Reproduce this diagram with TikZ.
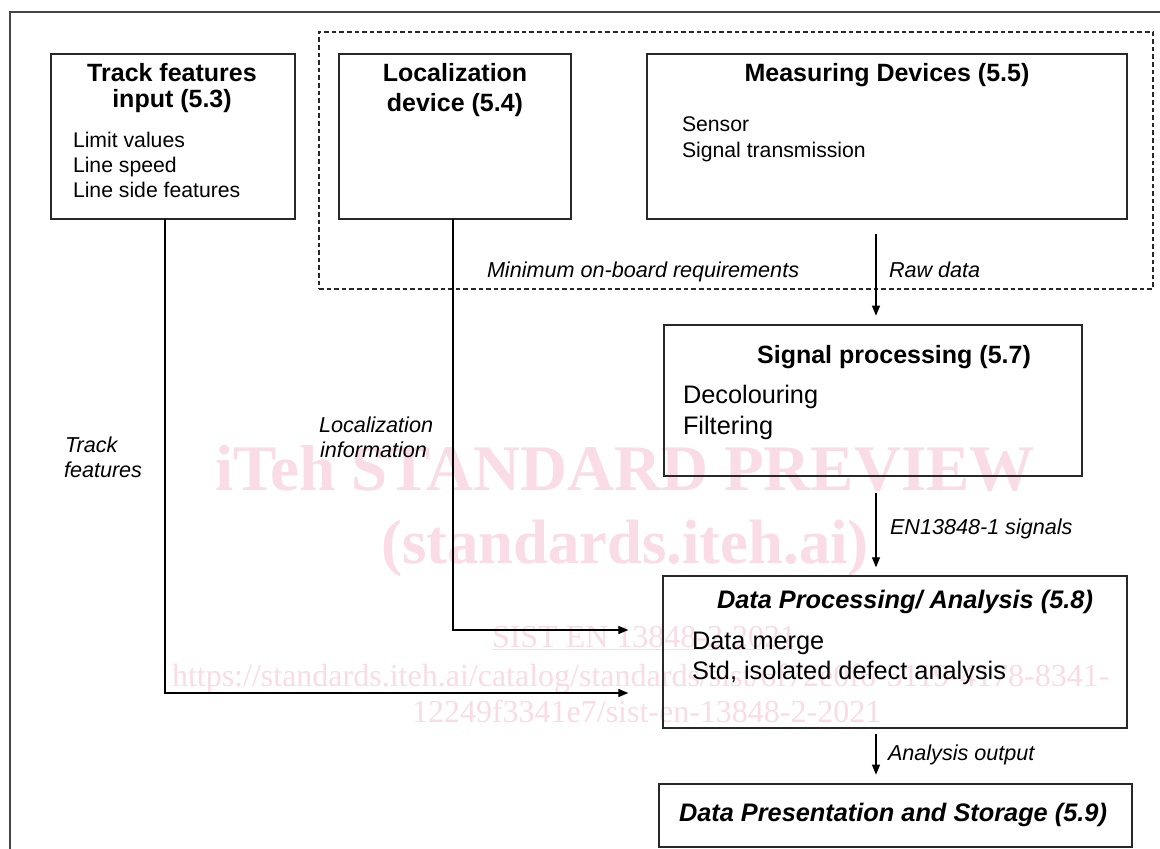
\documentclass[tikz,border=0pt]{standalone}
\usepackage{fontspec}
\setmainfont{Liberation Sans}
\newfontfamily\wmserif{Liberation Serif}
\usetikzlibrary{arrows.meta}

\definecolor{wmpink}{RGB}{249,220,229}
\definecolor{framec}{RGB}{70,70,70}
\definecolor{boxc}{RGB}{40,40,40}

\newcommand\setsz[1]{\fontsize{#1}{#1}\selectfont}

\tikzset{
  box/.style={draw=boxc, line width=1.1pt, inner sep=0pt, outer sep=0pt,
              anchor=north west, rectangle},
  dashbox/.style={draw=boxc, line width=0.8pt, dash pattern=on 3.5pt off 2.2pt,
              inner sep=0pt, outer sep=0pt, anchor=north west, rectangle},
  conn/.style={draw=black, line width=0.9pt},
  arr/.style={conn, -{Triangle[length=7.5pt,width=6pt]}},
  txt/.style={inner sep=0pt, outer sep=0pt, text=black},
  ttl/.style={txt, anchor=base, font=\setsz{18.75pt}\bfseries},
  ttlbi/.style={txt, anchor=base, font=\setsz{19pt}\bfseries\itshape},
  itemS/.style={txt, anchor=base west, font=\setsz{15.9pt}},
  itemL/.style={txt, anchor=base west, font=\setsz{19pt}},
  lbl/.style={txt, anchor=base west, font=\setsz{16.2pt}\itshape},
  wm/.style={inner sep=0pt, outer sep=0pt, text=wmpink},
}

\begin{document}
\begin{tikzpicture}[x=0.75pt,y=-0.75pt]
\useasboundingbox (0,0) rectangle (1160,849);
\fill[white] (0,0) rectangle (1160,849);

% preview watermark, behind the diagram
\node[wm, anchor=base, font=\wmserif\setsz{48.75pt}\bfseries] (wm1) at (625,490) {iTeh STANDARD PREVIEW};
\node[wm, anchor=base, font=\wmserif\setsz{47pt}\bfseries] (wm2) at (625,563) {(standards.iteh.ai)};
\node[wm, anchor=base west, font=\wmserif\setsz{24pt}] (wm3) at (492,647) {\underline{SIST EN 13848-2:2021}};
\node[wm, anchor=base west, font=\wmserif\setsz{24pt}] (wm4) at (172,686) {https://standards.iteh.ai/catalog/standards/sist/6f72e0f6-5119-4178-8341-};
\node[wm, anchor=base west, font=\wmserif\setsz{24pt}] (wm5) at (412,722) {12249f3341e7/sist-en-13848-2-2021};

% outer frame (left and top edges)
\draw[framec, line width=1.1pt] (10,849) -- (10,12) -- (1160,12);

% on-board group
\node[dashbox, minimum width=834*0.75pt, minimum height=257*0.75pt] (onboard) at (319,32) {};

% boxes
\node[box, minimum width=244*0.75pt, minimum height=165*0.75pt] (trk)  at (51,54) {};
\node[box, minimum width=232*0.75pt, minimum height=165*0.75pt] (loc)  at (339,54) {};
\node[box, minimum width=480*0.75pt, minimum height=165*0.75pt] (meas) at (647,54) {};
\node[box, minimum width=418*0.75pt, minimum height=151*0.75pt] (sig)  at (664,325) {};
\node[box, minimum width=464*0.75pt, minimum height=152*0.75pt] (dp)   at (663,576) {};
\node[box, minimum width=473*0.75pt, minimum height=63*0.75pt]  (pres) at (659,784) {};

% box texts
\node[ttl] (trkA) at (172,82)  {Track features};
\node[ttl] (trkB) at (172,108) {input (5.3)};
\node[itemS] (trk1) at (73,147) {Limit values};
\node[itemS] (trk2) at (73,172) {Line speed};
\node[itemS] (trk3) at (73,197) {Line side features};

\node[ttl] (locA) at (455,82)  {Localization};
\node[ttl] (locB) at (455,112) {device (5.4)};

\node[ttl] (measA) at (887,82) {Measuring Devices (5.5)};
\node[itemS] (meas1) at (682,132) {Sensor};
\node[itemS] (meas2) at (682,157) {Signal transmission};

\node[ttl] (sigA) at (894,363) {Signal processing (5.7)};
\node[itemL] (sig1) at (683,403) {Decolouring};
\node[itemL] (sig2) at (683,434) {Filtering};

\node[ttlbi] (dpA) at (905,608) {Data Processing/ Analysis (5.8)};
\node[itemL] (dp1) at (692,649) {Data merge};
\node[itemL] (dp2) at (692,679) {Std, isolated defect analysis};

\node[ttlbi] (presA) at (893,821) {Data Presentation and Storage (5.9)};

% connector guide positions
\coordinate (rx) at (876,0);
\coordinate (lx) at (453,0);
\coordinate (ly) at (0,630);
\coordinate (tx) at (165,0);
\coordinate (ty) at (0,693);

% connectors
\draw[arr, shorten <=11pt, shorten >=7pt] (meas.south -| rx) -- (sig.north -| rx);
\draw[arr, shorten <=12.5pt, shorten >=6.5pt] (sig.south -| rx) -- (dp.north -| rx);
\draw[arr, shorten <=4.5pt, shorten >=7pt] (dp.south -| rx) -- (pres.north -| rx);
\draw[arr, shorten >=26pt] (loc.south -| lx) |- (dp.west |- ly);
\draw[arr, shorten >=26pt] (trk.south -| tx) |- (dp.west |- ty);

% connector labels
\node[lbl] (lMin) at (487,277) {Minimum on-board requirements};
\node[lbl] (lRaw) at (889,277) {Raw data};
\node[lbl] (lLoc1) at (319,432) {Localization};
\node[lbl] (lLoc2) at (320,457) {information};
\node[lbl] (lTrk1) at (65,452) {Track};
\node[lbl] (lTrk2) at (64,477) {features};
\node[lbl] (lEN) at (890,534) {EN13848-1 signals};
\node[lbl] (lAna) at (888,760) {Analysis output};
\end{tikzpicture}
\end{document}
